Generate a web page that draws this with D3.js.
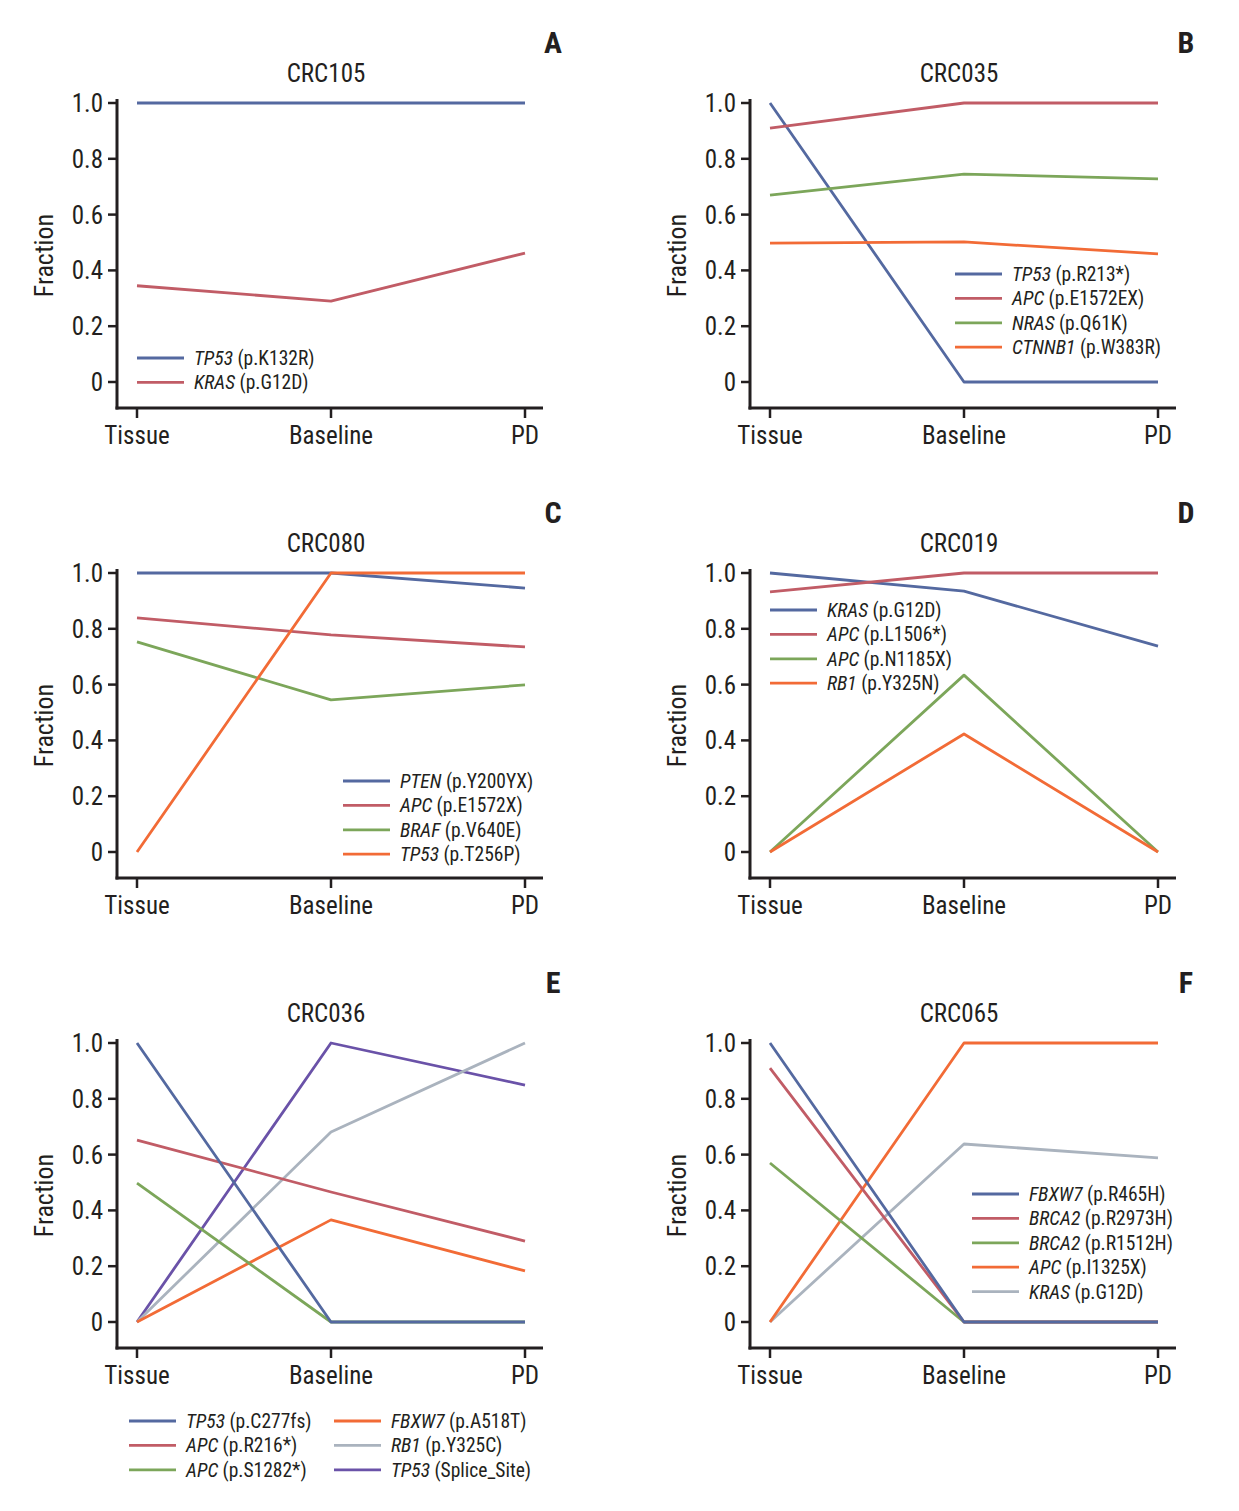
<!DOCTYPE html>
<html><head><meta charset="utf-8">
<script src="https://cdn.jsdelivr.net/npm/d3@7"></script>
<style>
body{margin:0;background:#fff;}
svg text{font-family:"Liberation Sans Narrow","Roboto Condensed","Arial Narrow",Roboto,sans-serif;fill:#231f20;}
</style></head>
<body><svg id="c" width="1239" height="1511"></svg>
<script>
const categories = ["Tissue","Baseline","PD"];
const yTicks = [0,0.2,0.4,0.6,0.8,1.0];
const yTickLabels = ["0","0.2","0.4","0.6","0.8","1.0"];

// Panel A - CRC105
const aGenes = ["TP53","KRAS"];
const aMuts = ["(p.K132R)","(p.G12D)"];
const aValues = [[1,1,1],[0.345,0.29,0.462]];
// Panel B - CRC035
const bGenes = ["TP53","APC","NRAS","CTNNB1"];
const bMuts = ["(p.R213*)","(p.E1572EX)","(p.Q61K)","(p.W383R)"];
const bValues = [[1,0,0],[0.91,1,1],[0.67,0.745,0.728],[0.498,0.502,0.459]];
// Panel C - CRC080
const cGenes = ["PTEN","APC","BRAF","TP53"];
const cMuts = ["(p.Y200YX)","(p.E1572X)","(p.V640E)","(p.T256P)"];
const cValues = [[1,1,0.946],[0.839,0.778,0.735],[0.753,0.545,0.599],[0,1,1]];
// Panel D - CRC019
const dGenes = ["KRAS","APC","APC","RB1"];
const dMuts = ["(p.G12D)","(p.L1506*)","(p.N1185X)","(p.Y325N)"];
const dValues = [[1,0.935,0.738],[0.932,1,1],[0,0.634,0],[0,0.423,0]];
// Panel E - CRC036
const eGenes = ["TP53","APC","APC","FBXW7","RB1","TP53"];
const eMuts = ["(p.C277fs)","(p.R216*)","(p.S1282*)","(p.A518T)","(p.Y325C)","(Splice_Site)"];
const eValues = [[1,0,0],[0.652,0.466,0.29],[0.498,0,0],[0,0.366,0.183],[0,0.681,1],[0,1,0.849]];
// Panel F - CRC065
const fGenes = ["FBXW7","BRCA2","BRCA2","APC","KRAS"];
const fMuts = ["(p.R465H)","(p.R2973H)","(p.R1512H)","(p.I1325X)","(p.G12D)"];
const fValues = [[1,0,0],[0.91,0,0],[0.57,0,0],[0,1,1],[0,0.638,0.588]];

const C = {blue:"#5469a0",red:"#c15c66",green:"#7ca65a",orange:"#f26b36",gray:"#aab3be",purple:"#6a52a8"};

const panels = [
 {letter:"A",title:"CRC105",genes:aGenes,muts:aMuts,values:aValues,colors:[C.blue,C.red],col:0,row:0,leg:{x:20,y:255,cols:1},rev:false},
 {letter:"B",title:"CRC035",genes:bGenes,muts:bMuts,values:bValues,colors:[C.blue,C.red,C.green,C.orange],col:1,row:0,leg:{x:205,y:171,cols:1},rev:false},
 {letter:"C",title:"CRC080",genes:cGenes,muts:cMuts,values:cValues,colors:[C.blue,C.red,C.green,C.orange],col:0,row:1,leg:{x:226,y:208,cols:1},rev:false},
 {letter:"D",title:"CRC019",genes:dGenes,muts:dMuts,values:dValues,colors:[C.blue,C.red,C.green,C.orange],col:1,row:1,leg:{x:20,y:37,cols:1},rev:false},
 {letter:"E",title:"CRC036",genes:eGenes,muts:eMuts,values:eValues,colors:[C.blue,C.red,C.green,C.orange,C.gray,C.purple],col:0,row:2,leg:{x:12,y:378,cols:2},rev:true},
 {letter:"F",title:"CRC065",genes:fGenes,muts:fMuts,values:fValues,colors:[C.blue,C.red,C.green,C.orange,C.gray],col:1,row:2,leg:{x:222,y:151,cols:1},rev:true}
];

const svg = d3.select("#c");
const colX = [117,750];
const rowY = [103,573,1043];
const plotW = 426, y1px = 0, y0px = 279, axisY = 305;

panels.forEach(p=>{
  const g = svg.append("g").attr("transform",`translate(${colX[p.col]},${rowY[p.row]})`);
  const x = d3.scalePoint().domain(categories).range([20,408]);
  const y = d3.scaleLinear().domain([0,1]).range([y0px,y1px]);
  const line = d3.line().x((d,i)=>x(categories[i])).y(d=>y(d));
  const idx = d3.range(p.values.length);
  if (p.rev) idx.reverse();
  idx.forEach(i=>{
    g.append("path").attr("d",line(p.values[i])).attr("fill","none").attr("stroke",p.colors[i]).attr("stroke-width",2.8).attr("stroke-linejoin","round");
  });
  g.append("line").attr("x1",0).attr("x2",0).attr("y1",-4).attr("y2",axisY+1.5).attr("stroke","#231f20").attr("stroke-width",3);
  g.append("line").attr("x1",-1.5).attr("x2",plotW).attr("y1",axisY).attr("y2",axisY).attr("stroke","#231f20").attr("stroke-width",3);
  yTicks.forEach((t,i)=>{
    g.append("line").attr("x1",-9).attr("x2",0).attr("y1",y(t)).attr("y2",y(t)).attr("stroke","#231f20").attr("stroke-width",2.5);
    g.append("text").attr("x",-14).attr("y",y(t)).attr("dy","0.36em").attr("text-anchor","end").attr("font-size",25).text(yTickLabels[i]);
  });
  categories.forEach(c=>{
    g.append("line").attr("x1",x(c)).attr("x2",x(c)).attr("y1",axisY).attr("y2",axisY+10).attr("stroke","#231f20").attr("stroke-width",2.5);
    g.append("text").attr("x",x(c)).attr("y",axisY+36).attr("text-anchor","middle").attr("font-size",25).text(c);
  });
  g.append("text").attr("transform",`translate(-64,${(y1px+axisY)/2}) rotate(-90)`).attr("text-anchor","middle").attr("font-size",26).text("Fraction");
  g.append("text").attr("x",209).attr("y",-21).attr("text-anchor","middle").attr("font-size",25).text(p.title);
  g.append("text").attr("x",436).attr("y",-50).attr("text-anchor","middle").attr("font-size",30).attr("font-weight","bold").text(p.letter);
  const perCol = p.leg.cols===2 ? 3 : p.genes.length;
  p.genes.forEach((gn,i)=>{
    const ci = Math.floor(i/perCol), ri = i%perCol;
    const lx = p.leg.x + ci*205, ly = p.leg.y + ri*24.4;
    g.append("line").attr("x1",lx).attr("x2",lx+47).attr("y1",ly).attr("y2",ly).attr("stroke",p.colors[i]).attr("stroke-width",2.8);
    const t = g.append("text").attr("x",lx+57).attr("y",ly).attr("dy","0.36em").attr("font-size",19.5);
    t.append("tspan").attr("font-style","italic").text(gn);
    t.append("tspan").text(" "+p.muts[i]);
  });
});
</script></body></html>
